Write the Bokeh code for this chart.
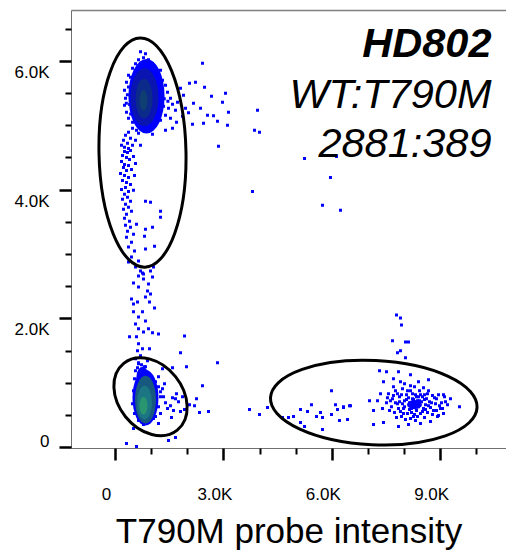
from bokeh.plotting import figure
from bokeh.models import LinearAxis, FixedTicker, CustomJSTickFormatter, ColumnDataSource, Label
from bokeh.embed import file_html
from bokeh.resources import INLINE

# ---------------- data ----------------
x_ticks = [0, 3000, 6000, 9000]
x_tick_labels = ["0", "3.0K", "6.0K", "9.0K"]
x_minor = [1000, 2000, 4000, 5000, 7000, 8000, 10000]
y_ticks = [0, 2000, 4000, 6000]
y_tick_labels = ["0", "2.0K", "4.0K", "6.0K"]
y_minor = [500, 1000, 1500, 2500, 3000, 3500, 4500, 5000, 5500, 6500]

title_lines = ["HD802", "WT:T790M", "2881:389"]

# upper (WT) population: halo + tail
wt_x = [692, 830, 775, 637, 913, 554, 720, 969, 471, 1107, 1246, 360, 1190, 1301, 304, 1384, 249, 1440, 277,
        1522, 1578, 249, 1467, 304, 1661, 1384, 360, 1246, 1522, 471, 1107, 913, 692, 581, 830, 1024, 1799, 1882,
        1716, 1938, 1688, 1855, 1384, 1578, 415, 1050, 1150, 360, 1300, 330, 1350, 390, 1330, 420, 1200, 540,
        1000, 760, 600, 880, 1240, 300, 1450, 1200,
        471, 360, 277, 415, 221, 332, 471, 249, 360, 554, 637, 692, 166, 249, 332, 415, 194, 304, 388, 498, 166,
        249, 360, 554, 221, 304, 443, 138, 249, 360, 526, 194, 304, 415, 277, 166, 360, 498, 249, 332, 194, 415,
        277, 360, 221, 443, 304, 249, 388, 277, 415, 332, 498, 304, 443, 360, 526, 443, 637, 830, 803, 1246, 1246,
        969, 830, 1024, 1080, 581, 830]
wt_y = [6146, 6115, 6054, 6023, 6023, 5960, 5968, 5937, 5890, 5890, 5859, 5782, 5766, 5705, 5674, 5627, 5550,
        5519, 5426, 5426, 5333, 5318, 5272, 5209, 5240, 5163, 5116, 5085, 5116, 5054, 5023, 4992, 4992, 4930,
        4915, 4868, 5581, 5473, 5364, 5272, 5054, 5147, 4930, 4961, 5750, 5820, 5700, 5600, 5550, 5480, 5420,
        5330, 5300, 5180, 5180, 5100, 5080, 5050, 5800, 5880, 5620, 5350, 5380, 5400,
        4961, 4899, 4853, 4806, 4775, 4729, 4698, 4667, 4646, 4775, 4884, 4698, 4698, 4600, 4584, 4615, 4537,
        4506, 4475, 4522, 4444, 4398, 4383, 4413, 4352, 4305, 4321, 4259, 4228, 4197, 4228, 4150, 4119, 4088,
        4042, 4011, 3980, 3996, 3934, 3888, 3857, 3826, 3779, 3733, 3702, 3671, 3625, 3563, 3517, 3455, 3424,
        3362, 3316, 3270, 3192, 3115, 3053, 2960, 2898, 3084, 3285, 3671, 3578, 3812, 3393, 3424, 3130, 3470,
        3826]

# droplets between the clusters and scattered "rain"
rain_x = [360, 554, 692, 1052, 637, 775, 747, 969, 1024, 775, 913, 498, 637, 886, 969, 830, 443, 498, 609, 941,
          498, 637, 747, 830, 554, 637, 775, 581, 913, 388, 637, 747, 609, 692, 941, 886, 554, 637, 803, 720,
          2408, 2464, 2657, 2962, 3128, 3045, 2823, 2713, 2547, 2353, 2159, 2021, 2131, 2436, 3100, 2851, 2214,
          2048, 3931, 3847, 3986, 5232, 5951, 3792, 5730, 6228, 6117,
          1080, 1024, 1190, 1910, 1799, 2823, 1965, 1578, 2408, 2242, 2048, 2187, 2574, 2325, 1855, 1688, 1578,
          1661, 1522, 1744, 1910, 1301, 1384, 1550, 1661, 1467, 304, 581, 3709, 3986, 4207,
          1246, 1329, 1440, 1605, 1799, 1246, 1356, 1190, 1301]
rain_y = [2883, 2806, 2743, 2806, 2666, 2697, 2713, 2743, 2651, 2620, 2542, 2558, 2496, 2434, 2388, 2341, 2310,
          2233, 2264, 2264, 2110, 2032, 2110, 1969, 1923, 1846, 1799, 1722, 1846, 1722, 1614, 1536, 1505, 1428,
          1536, 1351, 1381, 1304, 1258, 1196,
          5968, 5596, 5457, 5364, 5209, 5504, 5070, 5155, 5163, 5272, 5349, 5200, 5023, 5039, 5008, 4682, 5674,
          5659, 5240, 4930, 4899, 4491, 4197, 3980, 3764, 3687, 4522,
          2171, 1784, 1768, 1737, 1474, 1320, 1258, 1242, 964, 763, 670, 654, 562, 546, 794, 840, 778, 763, 654,
          716, 593, 917, 701, 469, 159, 113, 66, 20, 593, 515, 624,
          871, 794, 608, 577, 562, 531, 995, 1103, 1227]

# lower-left (double negative) population edge
neg_x = [637, 720, 609, 830, 554, 858, 969, 1107, 526, 1190, 498, 1246, 471, 1190, 526, 1107, 637, 913, 775,
         1052, 498, 1190]
neg_y = [1320, 1289, 1242, 1258, 1196, 1165, 1072, 1026, 1072, 948, 886, 794, 685, 639, 531, 484, 422, 407,
         361, 453, 299, 376]

# right (T790M) population
mut_x = [7778, 7888, 7916, 7667, 8027, 8110, 7805, 7888, 8027, 7308, 7501, 7833, 8166, 8664, 7694, 7888, 7418,
         8387, 8166, 8525, 8941, 9079, 9273, 9190, 9522, 7031, 7252, 6311, 6505, 7142, 6422, 7142, 7418, 7833,
         8110, 8442, 8719, 8913, 9079, 8996,
         4623, 4789, 4927, 5121, 5121, 5232, 5315, 5425, 5564, 5730, 5730, 5674, 5979, 5979, 6090, 6145, 6200,
         6311, 6477,
         7556, 7667, 7750, 7805, 7861, 7944, 7971, 7999, 8055, 8082, 8138, 8166, 8193, 8221, 8249, 8276, 8304,
         8332, 8359, 8387, 8415, 8442, 8470, 8498, 8525, 8581, 8608, 8636, 8691, 8719, 8774, 8802, 8858, 8885,
         8941, 8968, 7639, 7722, 7778, 7916, 8027, 8166, 8304, 8553, 7501, 7584, 8110, 8249, 8387, 8193, 7999,
         7888, 8553, 8664, 8276, 7999, 7694, 7335, 7390, 9134, 9051,
         7805, 7861, 7916, 7971, 8055, 8082, 8138, 8221, 8276, 8332, 8359, 8415, 8442, 8498, 8553, 8581, 8636,
         8664, 8747, 8774, 8830, 8885, 7944, 7833, 7750, 7694, 7611, 7528, 9024, 9107]
mut_y = [2063, 2016, 1907, 1660, 1644, 1644, 1474, 1505, 1397, 1196, 1180, 1180, 1134, 1057, 1072, 1026, 1026,
         1026, 964, 933, 825, 825, 763, 670, 639, 732, 732, 639, 654, 577, 438, 361, 392, 330, 361, 376, 407,
         484, 531, 608,
         469, 469, 484, 593, 392, 330, 562, 670, 484, 283, 469, 546, 886, 515, 670, 593, 422, 624, 654,
         840, 763, 886, 685, 794, 917, 608, 732, 825, 531, 701, 886, 608, 763, 484, 670, 825, 577, 732, 639,
         886, 531, 716, 794, 608, 670, 763, 546, 716, 624, 810, 577, 685, 763, 500, 654, 639, 546, 469, 484,
         438, 453, 422, 469, 701, 577, 778, 748, 794, 546, 639, 562, 825, 886, 948, 995, 948, 840, 608, 716,
         608,
         840, 716, 825, 531, 748, 886, 593, 840, 515, 794, 484, 732, 825, 562, 748, 593, 840, 654, 701, 515,
         778, 577, 685, 608, 701, 810, 732, 778, 701, 794]

# dense cores (density level 1 = sparse ... 7 = densest)
core_x = [858, 803, 790, 775, 830, 747, 830, 803, 775, 8276]
core_y = [5457, 5442, 5420, 5395, 778, 1103, 747, 701, 654, 670]
core_w = [1000, 780, 470, 220, 720, 332, 581, 415, 221, 415]
core_h = [1160, 900, 620, 320, 866, 309, 743, 526, 278, 140]
core_level = [1, 2, 3, 4, 1, 1, 5, 6, 7, 1]

# gates
gate_x = [747, 969, 7149]
gate_y = [4583, 793, 701]
gate_w = [2408, 2369, 5724]
gate_h = [3558, 995, 1307]
gate_tilt = [-0.02, 0.895, 0.048]   # counter-clockwise, radians

# ---------------- styling / layout ----------------
FONT = "Liberation Sans"
BLUE = "#0000ff"
palette = ["#0000ff", "#0a14b0", "#0c2a8a", "#0f3f72", "#17587f", "#1b7582", "#2a9670"]

# label nudges in data units (pixel offsets of the reference's tick labels)
Y_LABEL_NUDGE = [105, -170, -170, -170]
X_LABEL_NUDGE = -249

p = figure(width=506, height=552, x_range=(-1218, 10823), y_range=(-11, 6788),
           x_axis_type=None, y_axis_type=None,
           output_backend="svg", toolbar_location=None,
           min_border_left=71, min_border_right=0, min_border_top=10, min_border_bottom=102)
p.outline_line_color = None
p.grid.visible = False
p.background_fill_color = "white"
p.border_fill_color = "white"

empty = CustomJSTickFormatter(code="return ''")

ya = LinearAxis(ticker=FixedTicker(ticks=y_ticks, minor_ticks=y_minor), formatter=empty,
                major_label_text_font_size="0px", major_label_standoff=0,
                major_tick_out=12, major_tick_in=0, minor_tick_out=6, minor_tick_in=0,
                major_tick_line_width=2.5, minor_tick_line_width=2,
                major_tick_line_color="black", minor_tick_line_color="black",
                axis_line_color="#707070", axis_line_width=1)
p.add_layout(ya, "left")
yb = LinearAxis(ticker=FixedTicker(ticks=[t + n for t, n in zip(y_ticks, Y_LABEL_NUDGE)], minor_ticks=[]),
                formatter=CustomJSTickFormatter(args=dict(labels=y_tick_labels), code="return labels[index]"),
                axis_line_color=None, major_tick_line_color=None, minor_tick_line_color=None,
                major_tick_out=0, major_tick_in=0, minor_tick_out=0, minor_tick_in=0,
                major_label_standoff=10, major_label_text_font_size="17px",
                major_label_text_font=FONT, major_label_text_color="black")
p.add_layout(yb, "left")

xa = LinearAxis(ticker=FixedTicker(ticks=x_ticks, minor_ticks=x_minor), formatter=empty,
                major_label_text_font_size="0px", major_label_standoff=0,
                major_tick_out=12, major_tick_in=0, minor_tick_out=6, minor_tick_in=0,
                major_tick_line_width=2.5, minor_tick_line_width=2,
                major_tick_line_color="black", minor_tick_line_color="black",
                axis_line_color="#707070", axis_line_width=1)
p.add_layout(xa, "below")
xb = LinearAxis(ticker=FixedTicker(ticks=[t + X_LABEL_NUDGE for t in x_ticks], minor_ticks=[]),
                formatter=CustomJSTickFormatter(args=dict(labels=x_tick_labels), code="return labels[index]"),
                axis_line_color=None, major_tick_line_color=None, minor_tick_line_color=None,
                major_tick_out=0, major_tick_in=0, minor_tick_out=0, minor_tick_in=0,
                major_label_standoff=24, major_label_text_font_size="17px",
                major_label_text_font=FONT, major_label_text_color="black",
                axis_label="T790M probe intensity", axis_label_text_font=FONT,
                axis_label_text_font_size="35px", axis_label_text_font_style="normal",
                axis_label_text_color="black", axis_label_standoff=4)
p.add_layout(xb, "below")

top = LinearAxis(ticker=FixedTicker(ticks=[], minor_ticks=[]), formatter=empty,
                 major_label_text_font_size="0px", major_label_standoff=0,
                 major_tick_out=0, major_tick_in=0, minor_tick_out=0, minor_tick_in=0,
                 axis_line_color="#808080", axis_line_width=1.5)
p.add_layout(top, "above")

sq = dict(marker="square", size=3, fill_color=BLUE, line_color=None)
p.scatter(wt_x, wt_y, **sq)
p.scatter(rain_x, rain_y, **sq)
p.scatter(neg_x, neg_y, **sq)
p.scatter(mut_x, mut_y, **sq)

core_src = ColumnDataSource(dict(x=core_x, y=core_y, w=core_w, h=core_h,
                                 c=[palette[l - 1] for l in core_level]))
p.ellipse(x="x", y="y", width="w", height="h", fill_color="c", line_color=None, source=core_src)

# Bokeh's ellipse angle turns clockwise on screen here, so negate the tilt
p.ellipse(x=gate_x, y=gate_y, width=gate_w, height=gate_h, angle=[-a for a in gate_tilt],
          fill_color=None, line_color="black", line_width=3)

title_y = [6286, 5497, 4739]
styles = ["bold italic", "italic", "italic"]
for txt, ty, st in zip(title_lines, title_y, styles):
    p.add_layout(Label(x=10408, y=ty, text=txt, text_align="right", text_baseline="alphabetic",
                       text_font=FONT, text_font_style=st, text_font_size="41.5px", text_color="black"))

open("out.html", "w").write(file_html(p, INLINE))
